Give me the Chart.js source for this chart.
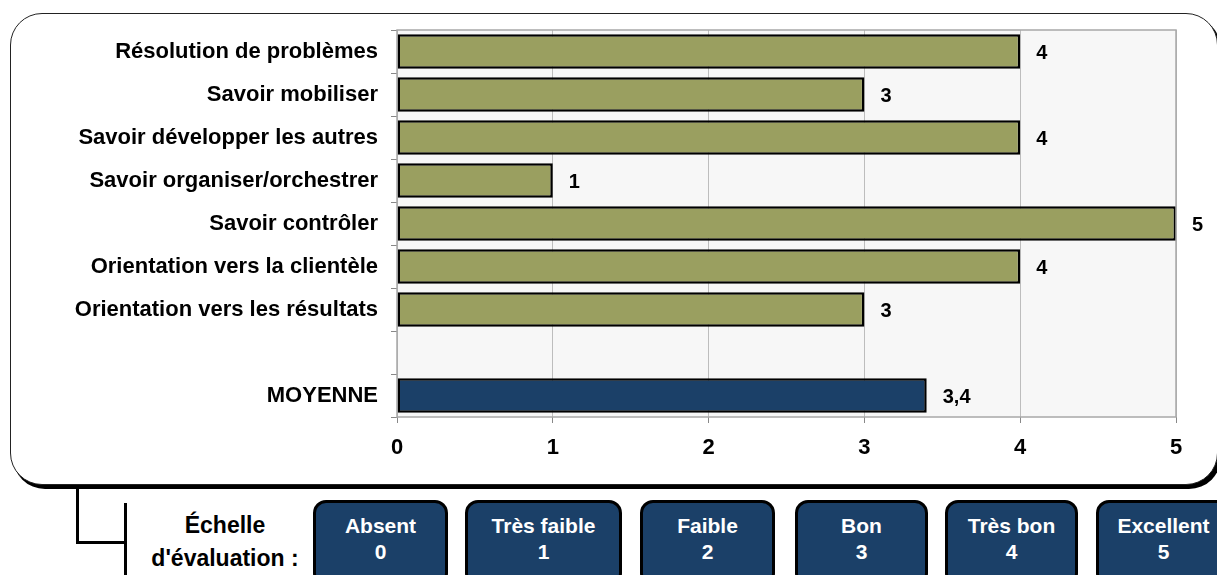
<!DOCTYPE html>
<html lang="fr">
<head>
    <meta charset="UTF-8">
    <title>Évaluation des compétences</title>
    <script src="https://cdn.jsdelivr.net/npm/chart.js"></script>
    <style>
        body {
            margin: 0;
            width: 1217px;
            height: 575px;
            overflow: hidden;
            background: #ffffff;
            font-family: 'Liberation Sans', Arial, sans-serif;
            position: relative;
        }

        .panel {
            position: absolute;
            left: 10px;
            top: 13px;
            width: 1206px;
            height: 470px;
            border: 1px solid #222;
            border-radius: 32px;
            box-shadow: 3px 4px 0 #000;
            background: #fff;
        }

        #chartWrap {
            position: absolute;
            left: 0;
            top: 0;
            width: 1217px;
            height: 480px;
        }

        .line {
            position: absolute;
            background: #000;
        }

        .scale-title {
            position: absolute;
            left: 130px;
            top: 509px;
            width: 190px;
            text-align: center;
            font-weight: bold;
            font-size: 23px;
            line-height: 33px;
            color: #000;
        }

        .box {
            position: absolute;
            top: 500px;
            height: 86px;
            box-sizing: border-box;
            border: 3px solid #000;
            border-radius: 13px;
            background: #1b4068;
            color: #fff;
            font-weight: bold;
            font-size: 21px;
            line-height: 26px;
            text-align: center;
            padding-top: 10px;
        }
    </style>
</head>
<body>
    <div class="panel"></div>
    <div id="chartWrap"><canvas id="chart"></canvas></div>

    <div class="line" style="left:76px; top:487px; width:3px; height:57px;"></div>
    <div class="line" style="left:76px; top:541px; width:51px; height:3px;"></div>
    <div class="line" style="left:124px; top:503px; width:3px; height:80px;"></div>

    <div class="scale-title">Échelle<br>d'évaluation :</div>
    <div id="boxes"></div>

    <script>
        const categories = [
            'Résolution de problèmes',
            'Savoir mobiliser',
            'Savoir développer les autres',
            'Savoir organiser/orchestrer',
            'Savoir contrôler',
            'Orientation vers la clientèle',
            'Orientation vers les résultats',
            '',
            'MOYENNE'
        ];
        const scores = [4, 3, 4, 1, 5, 4, 3, null, 3.4];
        const xTicks = [0, 1, 2, 3, 4, 5];

        const scaleNames = ['Absent', 'Très faible', 'Faible', 'Bon', 'Très bon', 'Excellent'];
        const scaleValues = [0, 1, 2, 3, 4, 5];
        const boxLeft = [313, 465, 640, 795, 945, 1096];
        const boxWidth = [135, 157, 135, 133, 133, 135];

        const olive = '#9a9f60';
        const navy = '#1b4068';
        const barColors = categories.map(c => c === 'MOYENNE' ? navy : olive);

        // plot background + frame
        const plotBg = {
            id: 'plotBg',
            beforeDraw(chart) {
                const { ctx, chartArea: a } = chart;
                ctx.save();
                ctx.fillStyle = '#f7f7f7';
                ctx.fillRect(a.left, a.top, a.right - a.left, a.bottom - a.top);
                ctx.restore();
            },
            afterDatasetsDraw(chart) {
                const { ctx, chartArea: a } = chart;
                ctx.save();
                ctx.strokeStyle = '#a8a8a8';
                ctx.lineWidth = 1.5;
                ctx.strokeRect(a.left, a.top, a.right - a.left, a.bottom - a.top);
                ctx.restore();
            }
        };

        // value labels after bar ends
        const valueLabels = {
            id: 'valueLabels',
            afterDatasetsDraw(chart) {
                const { ctx } = chart;
                const meta = chart.getDatasetMeta(0);
                ctx.save();
                ctx.font = 'bold 20px "Liberation Sans", Arial, sans-serif';
                ctx.fillStyle = '#000';
                ctx.textBaseline = 'middle';
                meta.data.forEach((bar, i) => {
                    const v = scores[i];
                    if (v === null) return;
                    ctx.fillText(String(v).replace('.', ','), bar.x + 16, bar.y + 2);
                });
                ctx.restore();
            }
        };

        const labelFont = { family: '"Liberation Sans", Arial, sans-serif', size: 22, weight: 'bold' };

        new Chart(document.getElementById('chart'), {
            type: 'bar',
            data: {
                labels: categories,
                datasets: [{
                    data: scores,
                    backgroundColor: barColors,
                    borderColor: '#000',
                    borderWidth: 2.5,
                    borderSkipped: false,
                    barPercentage: 0.8,
                    categoryPercentage: 1
                }]
            },
            options: {
                indexAxis: 'y',
                responsive: true,
                maintainAspectRatio: false,
                animation: false,
                layout: { padding: { top: 30, right: 41 } },
                plugins: {
                    legend: { display: false },
                    tooltip: { enabled: false }
                },
                scales: {
                    x: {
                        min: 0,
                        max: 5,
                        afterBuildTicks(axis) {
                            axis.ticks = xTicks.map(v => ({ value: v }));
                        },
                        afterFit(axis) { axis.height = 63; },
                        grid: {
                            color: '#bdbdbd',
                            tickColor: '#888',
                            tickLength: 6,
                            lineWidth: 1
                        },
                        border: { display: false },
                        ticks: {
                            color: '#000',
                            padding: 12,
                            font: labelFont
                        }
                    },
                    y: {
                        afterFit(axis) { axis.width = 397; },
                        grid: {
                            drawOnChartArea: false,
                            tickColor: '#888',
                            tickLength: 6,
                            offset: true
                        },
                        border: { display: false },
                        ticks: {
                            color: '#000',
                            padding: 13,
                            font: labelFont
                        }
                    }
                }
            },
            plugins: [plotBg, valueLabels]
        });

        const boxes = document.getElementById('boxes');
        scaleNames.forEach((name, i) => {
            const d = document.createElement('div');
            d.className = 'box';
            d.style.left = boxLeft[i] + 'px';
            d.style.width = boxWidth[i] + 'px';
            d.innerHTML = name + '<br>' + scaleValues[i];
            boxes.appendChild(d);
        });
    </script>
</body>
</html>
